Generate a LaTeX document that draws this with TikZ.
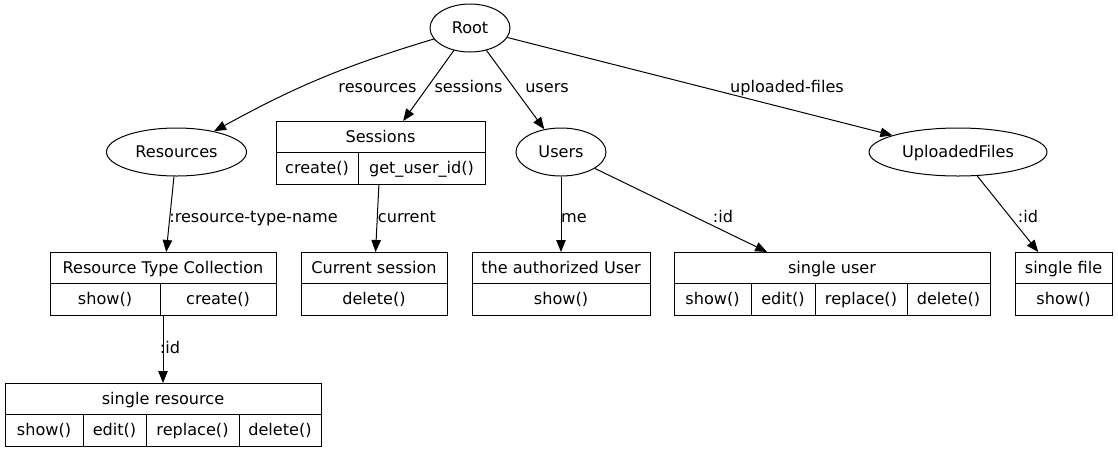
\documentclass[tikz,border=0pt]{standalone}
\usepackage{fontspec}
\setmainfont{DejaVu Sans}
\usetikzlibrary{arrows.meta,shapes.geometric}
\begin{document}
\begin{tikzpicture}[x=1pt,y=-1pt,
  font=\fontsize{16.1}{18}\selectfont,
  every path/.style={line width=1pt},
  every node/.style={text height=13pt,text depth=1.6pt},
  oval/.style={ellipse,draw,inner sep=0pt,minimum height=48pt},
  recbox/.style={draw,rectangle,inner sep=0pt,outer sep=0pt,minimum height=63pt},
  hcell/.style={draw,rectangle,inner sep=0pt,outer sep=0pt,minimum height=31pt},
  mcell/.style={draw,rectangle,inner sep=0pt,outer sep=0pt,minimum height=32pt},
  edge/.style={draw,-{Triangle[length=12pt,width=9.5pt]}},
  elabel/.style={inner sep=0pt}]
\useasboundingbox (0,0) rectangle (1118,451);
% ellipses
\node[oval,minimum width=80pt] (root) at (470,28) {Root};
\node[oval,minimum width=140pt] (res) at (176.5,152) {Resources};
\node[oval,minimum width=90pt] (users) at (561,152) {Users};
\node[oval,minimum width=178pt] (uf) at (958,152) {UploadedFiles};
% Sessions
\node[recbox,minimum width=209pt] (ses) at (380.5,152.5) {};
\node[hcell,minimum width=209pt] (sesH) at (380.5,136.5) {Sessions};
\node[mcell,minimum width=82pt] (sesC) at (317,168) {create()};
\node[mcell,minimum width=127pt] (sesG) at (421.5,168) {get\_user\_id()};
% Resource Type Collection
\node[recbox,minimum width=226pt] (rtc) at (163,283.5) {};
\node[hcell,minimum width=226pt] (rtcH) at (163,267.5) {Resource Type Collection};
\node[mcell,minimum width=110pt] (rtcS) at (105,299) {show()};
\node[mcell,minimum width=116pt] (rtcC) at (218,299) {create()};
% Current session
\node[recbox,minimum width=146pt] (cur) at (374,283.5) {};
\node[hcell,minimum width=146pt] (curH) at (374,267.5) {Current session};
\node[mcell,minimum width=146pt] (curD) at (374,299) {delete()};
% authorized user
\node[recbox,minimum width=178pt] (auth) at (561,283.5) {};
\node[hcell,minimum width=178pt] (authH) at (561,267.5) {the authorized User};
\node[mcell,minimum width=178pt] (authS) at (561,299) {show()};
% single user
\node[recbox,minimum width=316pt] (su) at (832,283.5) {};
\node[hcell,minimum width=316pt] (suH) at (832,267.5) {single user};
\node[mcell,minimum width=77pt] (suS) at (712.5,299) {show()};
\node[mcell,minimum width=64pt] (suE) at (783,299) {edit()};
\node[mcell,minimum width=92pt] (suR) at (861,299) {replace()};
\node[mcell,minimum width=83pt] (suD) at (948.5,299) {delete()};
% single file
\node[recbox,minimum width=97pt] (sf) at (1063.5,283.5) {};
\node[hcell,minimum width=97pt] (sfH) at (1063.5,267.5) {single file};
\node[mcell,minimum width=97pt] (sfS) at (1063.5,299) {show()};
% single resource
\node[recbox,minimum width=316pt] (sr) at (163,414.5) {};
\node[hcell,minimum width=316pt] (srH) at (163,398.5) {single resource};
\node[mcell,minimum width=78pt] (srS) at (44,430) {show()};
\node[mcell,minimum width=63pt] (srE) at (114.5,430) {edit()};
\node[mcell,minimum width=93pt] (srR) at (192.5,430) {replace()};
\node[mcell,minimum width=82pt] (srD) at (280,430) {delete()};
% edges
\draw[edge] (root) to[bend right=6] (res);
\draw[edge] (root) -- (ses);
\draw[edge] (root) -- (users);
\draw[edge] (root) -- (uf);
\draw[edge] (res) -- (rtc);
\draw[edge] (ses) -- (cur);
\draw[edge] (users) -- (auth);
\draw[edge] (users) -- (su);
\draw[edge] (uf) -- (sf);
\draw[edge] (rtc) -- (sr);
% labels
\node[elabel] (lres) at (377.5,87) {resources};
\node[elabel] (lses) at (468.5,87) {sessions};
\node[elabel] (lusr) at (547,87) {users};
\node[elabel] (luf) at (787,87) {uploaded-files};
\node[elabel] (lrtn) at (253.5,217) {:resource-type-name};
\node[elabel] (lcur) at (407,217) {current};
\node[elabel] (lme) at (574,217) {me};
\node[elabel] (lsuid) at (723,217) {:id};
\node[elabel] (lsfid) at (1028,217) {:id};
\node[elabel] (lsrid) at (170,348) {:id};
\end{tikzpicture}
\end{document}
